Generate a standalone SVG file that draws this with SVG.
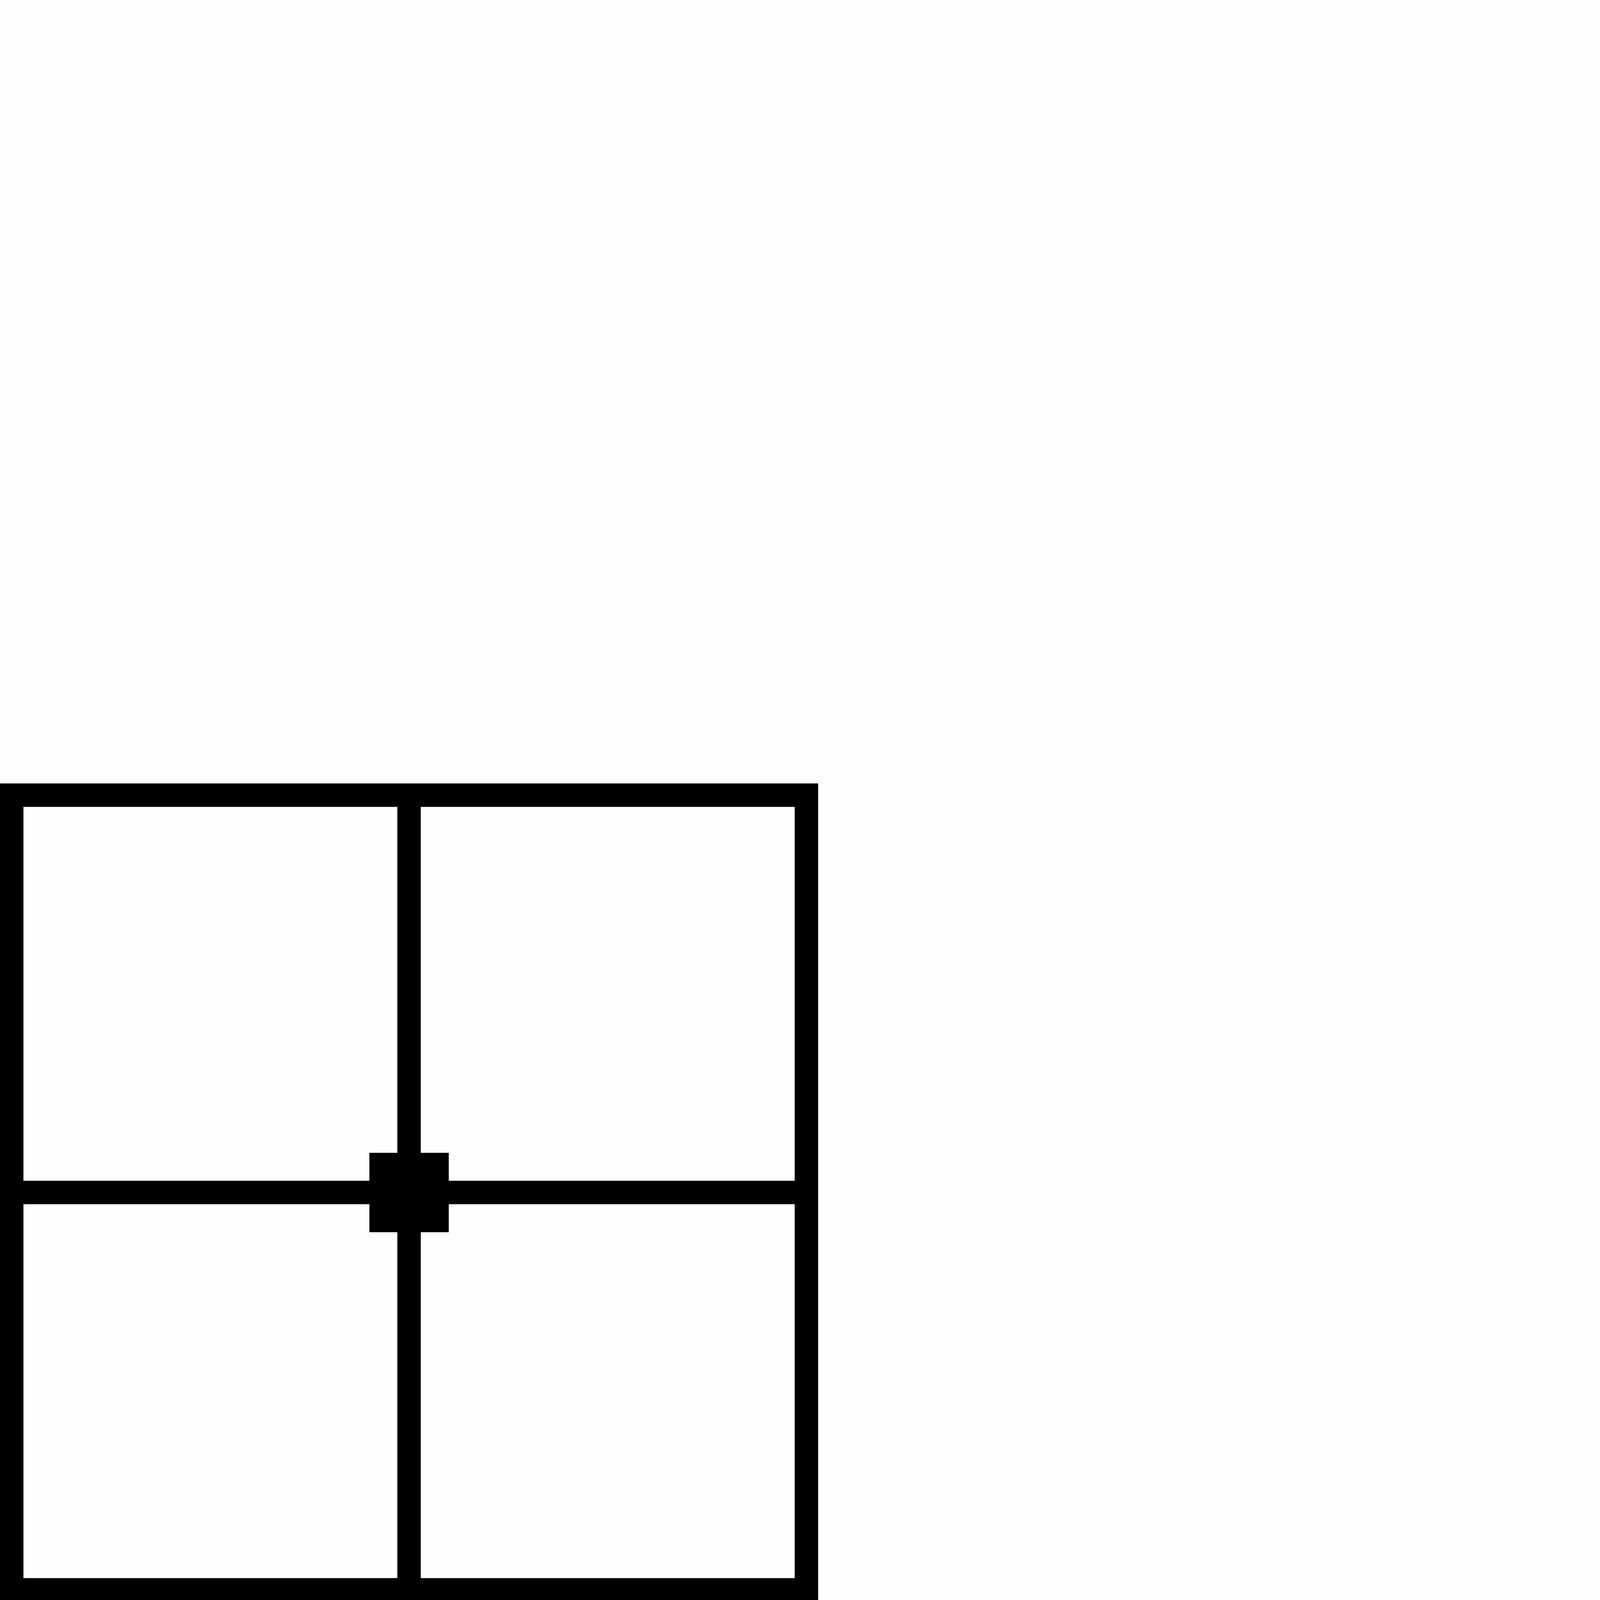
<svg xmlns="http://www.w3.org/2000/svg" width="4298" height="4298" viewBox="0 0 4298 4298">
<style>
.ln{fill:none;stroke:#000;stroke-width:60;stroke-linecap:butt}
</style>
<rect x="0" y="0" width="4298" height="4298" fill="#fefefe"/>
<g id="frame">
<rect class="ln" x="30" y="2035.6" width="2034.4" height="2034.4"/>
<line class="ln" x1="1047.2" y1="2035.6" x2="1047.2" y2="4070"/>
<line class="ln" x1="30" y1="3052.8" x2="2064.4" y2="3052.8"/>
</g>
<g id="center">
<rect x="945.6" y="2951.2" width="203.2" height="203.2" fill="#000"/>
</g>
</svg>
